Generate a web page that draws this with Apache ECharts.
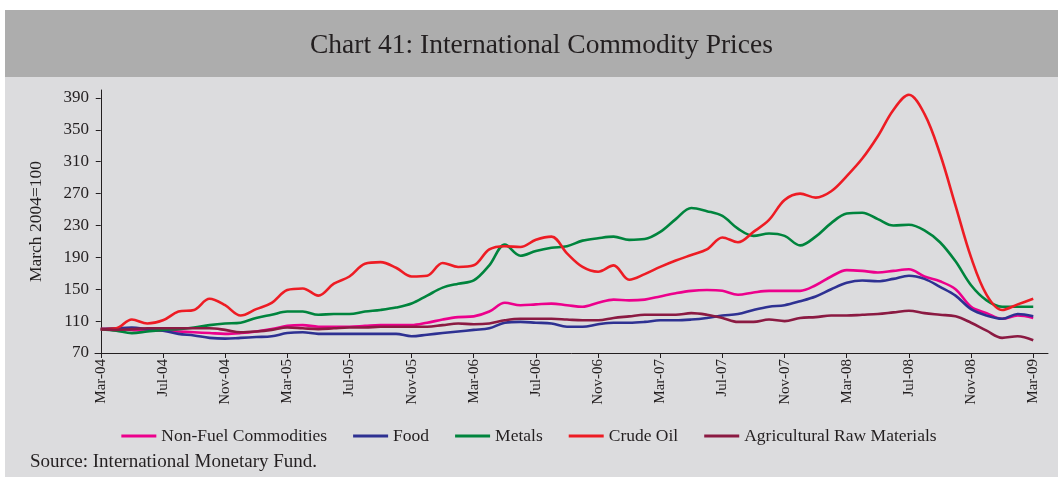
<!DOCTYPE html>
<html>
<head>
<meta charset="utf-8">
<script src="https://cdn.jsdelivr.net/npm/echarts@6/dist/echarts.min.js"></script>
<style>
  html, body { margin: 0; padding: 0; background: #fff; }
  #chart { width: 1058px; height: 479px; }
</style>
</head>
<body>
<div id="chart"></div>
<script>
// monthly index, March 2004 = 100
const months = [
  'Mar-04', 'Apr-04', 'May-04', 'Jun-04', 'Jul-04', 'Aug-04', 'Sep-04', 'Oct-04', 'Nov-04', 'Dec-04', 'Jan-05', 'Feb-05',
  'Mar-05', 'Apr-05', 'May-05', 'Jun-05', 'Jul-05', 'Aug-05', 'Sep-05', 'Oct-05', 'Nov-05', 'Dec-05', 'Jan-06', 'Feb-06',
  'Mar-06', 'Apr-06', 'May-06', 'Jun-06', 'Jul-06', 'Aug-06', 'Sep-06', 'Oct-06', 'Nov-06', 'Dec-06', 'Jan-07', 'Feb-07',
  'Mar-07', 'Apr-07', 'May-07', 'Jun-07', 'Jul-07', 'Aug-07', 'Sep-07', 'Oct-07', 'Nov-07', 'Dec-07', 'Jan-08', 'Feb-08',
  'Mar-08', 'Apr-08', 'May-08', 'Jun-08', 'Jul-08', 'Aug-08', 'Sep-08', 'Oct-08', 'Nov-08', 'Dec-08', 'Jan-09', 'Feb-09',
  'Mar-09'
]
const xTicks = [0, 4, 8, 12, 16, 20, 24, 28, 32, 36, 40, 44, 48, 52, 56, 60]
const yTicks = [70, 110, 150, 190, 230, 270, 310, 350, 390]

const nonFuel = [
  100, 100, 99, 98, 98, 97, 96, 95, 94, 95, 97, 100,
  104, 105, 103, 103, 103, 104, 105, 105, 105, 108, 112, 115,
  116, 122, 133, 130, 131, 132, 130, 128, 133, 137, 136, 137,
  141, 145, 148, 149, 148, 143, 146, 148, 148, 148, 155, 166,
  174, 173, 171, 173, 175, 166, 160, 150, 128, 120, 113, 117,
  114
]
const food = [
  100, 101, 102, 100, 98, 94, 92, 89, 88, 89, 90, 91,
  95, 96, 94, 94, 94, 94, 94, 94, 91, 93, 95, 97,
  99, 101, 108, 109, 108, 107, 103, 103, 106, 108, 108, 109,
  111, 111, 112, 114, 117, 119, 124, 128, 130, 135, 141, 150,
  158, 161, 160, 163, 167, 163, 153, 142, 125, 117, 113, 119,
  116
]
const metals = [
  100, 98, 95, 97, 99, 100, 102, 105, 107, 108, 114, 118,
  122, 122, 118, 119, 119, 122, 124, 127, 132, 142, 152, 157,
  161, 180, 206, 192, 198, 202, 204, 211, 214, 216, 212, 213,
  222, 238, 252, 248, 242, 226, 217, 220, 217, 205, 216, 233,
  245, 246, 238, 230, 231, 224, 209, 185, 155, 136, 128, 128,
  128
]
const crudeOil = [
  100, 101, 112, 107, 111, 122, 124, 138, 130, 117, 125, 133,
  149, 151, 142, 157, 166, 182, 184, 177, 166, 167, 183, 178,
  180, 200, 204, 203, 212, 216, 195, 178, 172, 180, 162, 169,
  178, 186, 193, 200, 215, 209, 222, 237, 262, 270, 265, 273,
  292, 314, 342, 375, 394, 370, 320, 255, 190, 143, 124, 131,
  138
]
const agriRaw = [
  100, 99, 100, 101, 101, 101, 101, 101, 99, 96, 97, 99,
  102, 101, 100, 101, 102, 102, 103, 103, 103, 103, 105, 107,
  106, 107, 111, 113, 113, 113, 112, 111, 111, 114, 116, 118,
  118, 118, 120, 118, 114, 109, 109, 112, 110, 114, 115, 117,
  117, 118, 119, 121, 123, 120, 118, 116, 108, 98, 89, 91,
  86
]

const seriesNames = ['Non-Fuel Commodities', 'Food', 'Metals', 'Crude Oil', 'Agricultural Raw Materials']
const seriesColors = ['#ec008c', '#2e3192', '#00843d', '#ed1c24', '#8b1a42']
const seriesValues = [nonFuel, food, metals, crudeOil, agriRaw]

const fontFamily = '"Liberation Serif", "DejaVu Serif", serif'
const textColor = '#231f20'

const chart = echarts.init(document.getElementById('chart'), null, { renderer: 'canvas' })

chart.setOption({
  backgroundColor: '#ffffff',
  animation: false,
  graphic: [
    // title band
    { type: 'rect', z: -10, shape: { x: 5, y: 10, width: 1053, height: 67 }, style: { fill: '#adadad' } },
    // chart panel
    { type: 'rect', z: -10, shape: { x: 5, y: 77, width: 1053, height: 400 }, style: { fill: '#dcdcde' } },
    {
      type: 'text', left: 30, top: 453,
      style: { text: 'Source: International Monetary Fund.', font: '19px ' + fontFamily, fill: textColor }
    }
  ],
  title: {
    text: 'Chart 41: International Commodity Prices',
    left: 305,
    top: 27,
    textStyle: { fontFamily: fontFamily, fontSize: 27.5, fontWeight: 'normal', color: textColor }
  },
  legend: {
    top: 422,
    left: 'center',
    icon: 'rect',
    itemWidth: 35,
    itemHeight: 3,
    itemGap: 26,
    textStyle: { fontFamily: fontFamily, fontSize: 17.5, color: textColor },
    data: seriesNames
  },
  grid: { left: 95, right: 10, top: 90, bottom: 126 },
  xAxis: {
    type: 'value',
    min: -0.37,
    max: 60.95,
    splitLine: { show: false },
    axisLine: { lineStyle: { color: '#231f20', width: 1 } },
    axisTick: { customValues: xTicks, length: 5, lineStyle: { color: '#231f20' } },
    axisLabel: {
      customValues: xTicks,
      rotate: 90,
      margin: 6,
      fontFamily: fontFamily,
      fontSize: 15,
      color: textColor,
      formatter: v => months[Math.round(v)]
    }
  },
  yAxis: {
    type: 'value',
    min: 70,
    max: 400,
    name: 'March 2004=100',
    nameLocation: 'middle',
    nameGap: 50,
    nameTextStyle: { fontFamily: fontFamily, fontSize: 17.5, color: textColor },
    splitLine: { show: false },
    axisLine: { show: true, lineStyle: { color: '#231f20', width: 1 } },
    axisTick: { show: true, customValues: yTicks, length: 5, lineStyle: { color: '#231f20' } },
    axisLabel: {
      customValues: yTicks,
      margin: 6,
      fontFamily: fontFamily,
      fontSize: 17,
      color: textColor
    }
  },
  series: seriesNames.map((name, k) => ({
    name: name,
    type: 'line',
    smooth: 0.35,
    showSymbol: false,
    symbol: 'none',
    lineStyle: { width: 2.6, color: seriesColors[k] },
    itemStyle: { color: seriesColors[k] },
    data: seriesValues[k].map((v, i) => [i, v])
  }))
})
</script>
</body>
</html>
